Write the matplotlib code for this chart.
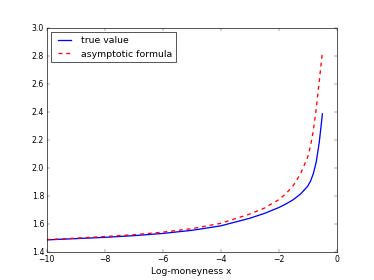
import numpy as np
import matplotlib
matplotlib.use("Agg")
import matplotlib.pyplot as plt

# values
x_true = [-10.0, -9.0, -8.0, -7.0, -6.0, -5.0, -4.0, -3.0, -2.5, -2.0, -1.75,
          -1.5, -1.25, -1.0, -0.9, -0.8, -0.7, -0.6, -0.55, -0.49]
y_true = [1.486, 1.495, 1.504, 1.516, 1.532, 1.554, 1.586, 1.640, 1.674, 1.716,
          1.742, 1.772, 1.812, 1.868, 1.905, 1.960, 2.045, 2.180, 2.270, 2.385]

x_asym = [-10.0, -9.0, -8.0, -7.0, -6.0, -5.0, -4.0, -3.0, -2.5, -2.0, -1.75,
          -1.5, -1.25, -1.0, -0.9, -0.8, -0.7, -0.6, -0.55, -0.5]
y_asym = [1.488, 1.498, 1.510, 1.523, 1.541, 1.566, 1.604, 1.670, 1.712, 1.772,
          1.815, 1.872, 1.955, 2.075, 2.155, 2.270, 2.425, 2.615, 2.710, 2.805]

plt.style.use("classic")

fig, ax = plt.subplots(figsize=(8, 6))
ax.plot(x_true, y_true, "b-", lw=2.0, label="true value")
ax.plot(x_asym, y_asym, "r--", lw=2.0, label="asymptotic formula")
ax.set_xlim(-10, 0)
ax.set_ylim(1.4, 3.0)
ax.set_xlabel("Log-moneyness x", fontsize=14)
ax.legend(loc="upper left")

fig.savefig("out.png", dpi=46.75)
